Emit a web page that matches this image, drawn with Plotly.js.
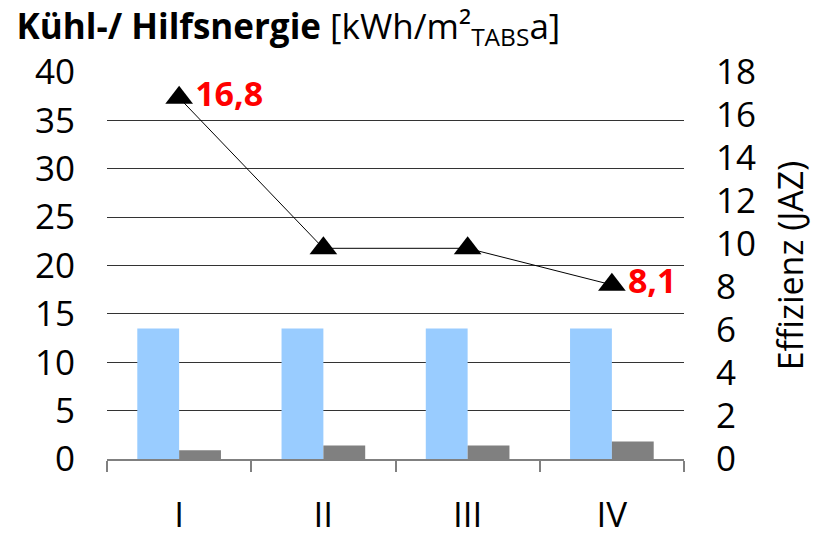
<!DOCTYPE html>
<html>
<head>
<meta charset="utf-8">
<script src="https://cdn.plot.ly/plotly-3.0.1.min.js"></script>
<style>html,body{margin:0;padding:0;background:#fff;}#chart{width:823px;height:537px;}</style>
</head>
<body>
<div id="chart"></div>
<script>
const categories = ["I", "II", "III", "IV"];
const kuehlenergie = [13.5, 13.5, 13.5, 13.5];
const hilfsenergie = [0.9, 1.4, 1.4, 1.8];
const effizienz = [16.8, 9.8, 9.8, 8.1];
const effizienzLabels = ["16,8", "", "", "8,1"];
const leftTicks = [0, 5, 10, 15, 20, 25, 30, 35, 40];
const rightTicks = [0, 2, 4, 6, 8, 10, 12, 14, 16, 18];

const FONT = "Open Sans, Noto Sans, DejaVu Sans, sans-serif";

const traces = [
  {
    type: "bar", x: categories, y: kuehlenergie, name: "Kühlenergie",
    marker: {color: "#99CCFF"}, yaxis: "y", hoverinfo: "skip"
  },
  {
    type: "bar", x: categories, y: hilfsenergie, name: "Hilfsenergie",
    marker: {color: "#808080"}, yaxis: "y", hoverinfo: "skip"
  },
  {
    type: "scatter", mode: "lines+markers+text", x: categories, y: effizienz,
    name: "Effizienz", yaxis: "y2",
    line: {color: "#000", width: 1},
    marker: {symbol: "triangle-up", size: 24, color: "#000"},
    text: effizienzLabels, textposition: "middle right",
    textfont: {family: FONT, size: 34, color: "#FF0000", weight: "bold"},
    cliponaxis: false, hoverinfo: "skip"
  }
];

const layout = {
  width: 823, height: 537,
  margin: {l: 107, r: 139, t: 72, b: 78},
  paper_bgcolor: "#fff", plot_bgcolor: "#fff",
  showlegend: false,
  barmode: "group", bargap: 0.42, bargroupgap: 0,
  font: {family: FONT, color: "#000"},
  title: {
    text: "<b>Kühl-/ Hilfsnergie</b> [kWh/m²<sub>TABS</sub>a]",
    font: {family: FONT, size: 35, color: "#000"},
    xref: "container", yref: "container",
    x: 0.02, xanchor: "left", y: 0.95, yanchor: "middle"
  },
  xaxis: {
    type: "category",
    tickvals: categories, ticktext: categories,
    tickson: "boundaries",
    ticks: "outside", ticklen: 11, tickcolor: "#808080", tickwidth: 2,
    showline: true, linecolor: "#808080", linewidth: 2,
    showgrid: false, zeroline: false,
    tickfont: {family: FONT, size: 35, color: "#000"},
    ticklabelstandoff: 24,
    fixedrange: true
  },
  yaxis: {
    range: [0, 40], tickvals: leftTicks, ticktext: leftTicks.map(String),
    showgrid: true, gridcolor: "#333", gridwidth: 1,
    zeroline: false, showline: false, ticks: "",
    tickfont: {family: FONT, size: 35, color: "#000"},
    ticklabelstandoff: 31,
    fixedrange: true
  },
  yaxis2: {
    overlaying: "y", side: "right",
    range: [0, 18], tickvals: rightTicks, ticktext: rightTicks.map(String),
    showgrid: false, zeroline: false, showline: false, ticks: "",
    tickfont: {family: FONT, size: 35, color: "#000"},
    ticklabelstandoff: 31,
    title: {text: "Effizienz (JAZ)", font: {family: FONT, size: 34, color: "#000"}, standoff: 24},
    fixedrange: true
  }
};

Plotly.newPlot("chart", traces, layout, {displayModeBar: false, staticPlot: true});
</script>
</body>
</html>
